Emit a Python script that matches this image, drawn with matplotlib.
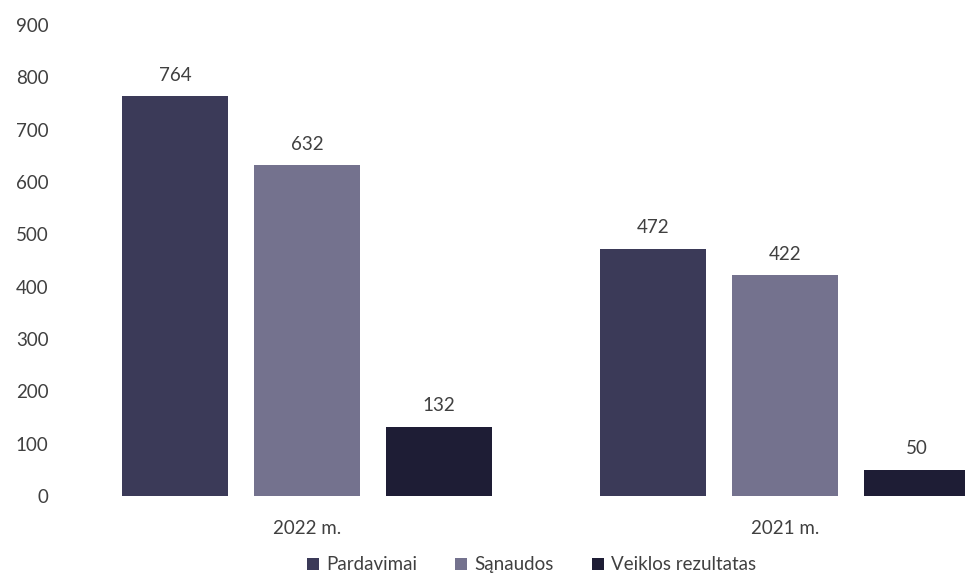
"""
Grouped bar chart: sales, costs and operating result by year
"""

import matplotlib.pyplot as plt
import numpy as np

years = ["2022 m.", "2021 m."]
series_names = ["Pardavimai", "Sąnaudos", "Veiklos rezultatas"]
pardavimai = [764, 472]
sanaudos = [632, 422]
veiklos_rezultatas = [132, 50]
y_ticks = [0, 100, 200, 300, 400, 500, 600, 700, 800, 900]

COLORS = ["#3b3a58", "#74728e", "#1e1d35"]
TEXT_COLOR = "#404040"
BAR_WIDTH = 0.222
BAR_STEP = 0.276
FONT_SIZE = 13.5

plt.rcParams["font.family"] = ["Lato", "DejaVu Sans"]

fig = plt.figure(figsize=(9.65, 5.8), dpi=100)
ax = fig.add_axes([0.0705, 0.145, 0.9295, 0.812])

x = np.arange(len(years))
values = [pardavimai, sanaudos, veiklos_rezultatas]
for i, (name, vals) in enumerate(zip(series_names, values)):
    offset = (i - 1) * BAR_STEP
    bars = ax.bar(x + offset, vals, width=BAR_WIDTH, color=COLORS[i], label=name)
    ax.bar_label(bars, padding=9, fontsize=FONT_SIZE, color=TEXT_COLOR)

ax.set_xlim(-0.5, 1.377)
ax.set_ylim(0, 900)
ax.set_yticks(y_ticks)
ax.set_xticks(x)
ax.set_xticklabels(years)
ax.tick_params(axis="both", length=0, labelsize=FONT_SIZE, colors=TEXT_COLOR)
ax.tick_params(axis="x", pad=17)
ax.tick_params(axis="y", pad=14)
for side in ["top", "right", "left", "bottom"]:
    ax.spines[side].set_visible(False)

fig.legend(
    loc="center",
    bbox_to_anchor=(0.551, 0.026),
    ncol=3,
    frameon=False,
    fontsize=FONT_SIZE,
    handlelength=0.65,
    handleheight=0.65,
    handletextpad=0.4,
    columnspacing=2.0,
    labelcolor=TEXT_COLOR,
)

plt.savefig("out.png", dpi=100)
